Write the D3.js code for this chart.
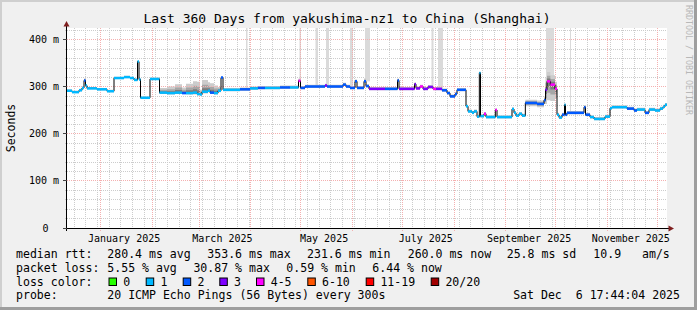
<!DOCTYPE html>
<html><head><meta charset="utf-8">
<script src="https://cdn.jsdelivr.net/npm/d3@7"></script>
<style>
html,body{margin:0;padding:0;background:#f0f0f0;}
svg{display:block;}
text{font-family:"DejaVu Sans Mono",monospace;fill:#000;white-space:pre;}
</style></head><body>
<svg id="c" width="697" height="310"></svg>
<script>
// ---------------- data ----------------
const title = "Last 360 Days from yakushima-nz1 to China (Shanghai)";
const yLabel = "Seconds";
const credit = "RRDTOOL / TOBI OETIKER";
const endTime = Date.UTC(2025, 11, 6, 17, 44, 4);
const spanDays = 360;
const yTicks = [0, 100, 200, 300, 400];
const yTickLabels = ["0", "100 m", "200 m", "300 m", "400 m"];

// step series: day offset from the start of the window, median rtt (ms), loss class, smoke spread (ms)
const days = [0,3.0,7.2,9.0,10.2,11.1,12.0,18.0,24.0,28.2,
  34.2,37.8,40.2,42.3,43.2,44.1,49.8,55.5,60.0,64.8,
  69.0,71.4,75.6,78.0,79.8,81.0,84.6,85.8,88.2,90.6,
  92.4,93.6,103.8,109.8,114.6,118.8,127.8,133.8,138.9,140.1,
  142.8,154.8,156.0,165.6,167.4,169.8,172.8,174.0,178.2,179.4,
  181.2,190.8,198.3,199.2,208.5,209.4,211.8,213.6,216.6,219.6,
  221.4,225.0,228.0,229.8,232.8,234.0,239.4,240.6,243.0,244.2,
  246.0,247.4,248.1,250.2,251.4,257.0,258.0,267.0,268.2,269.4,
  271.2,273.0,275.0,282.0,286.2,287.1,288.0,290.0,292.8,294.0,
  295.2,297.0,298.5,299.1,300.0,310.2,311.1,313.8,316.2,322.8,
  325.8,327.0,336.0,340.2,342.0,346.8,349.2,352.8,355.8,357.6,
  358.8];
const median = [292,289,293,298,314,303,297,295,291,319,
  321,319,315,354,316,277,317,288,287,288,
  287,287,288,285,284,290,292,288,287,292,
  320,294,295,297,298,298,299,299,313,298,
  301,303,301,305,301,298,312,298,312,302,
  296,296,314,296,306,297,301,296,300,296,
  296,293,287,280,285,294,259,248,245,248,
  237,330,238,243,236,251,236,253,245,239,
  243,239,266,264,272,294,312,305,296,241,
  235,241,262,241,245,257,241,236,232,237,
  255,257,254,250,252,245,252,250,254,258,
  262];
const loss = [1,1,1,1,2,1,1,1,1,1,
  1,1,1,1,1,1,1,1,1,1,
  2,1,1,1,1,1,1,2,1,1,
  2,1,2,1,2,1,2,1,4,2,
  2,3,2,2,2,2,2,2,2,2,
  3,2,2,3,3,3,4,3,3,4,
  3,2,2,2,2,2,1,1,1,1,
  1,1,1,4,1,4,1,1,1,1,
  1,1,2,2,2,3,4,4,4,1,
  1,2,1,2,2,2,2,1,1,1,
  1,1,2,2,1,2,1,1,1,1,
  1];
const smokeUp = [3,3,3,3,4,3,3,3,3,3,
  3,3,3,2,3,3,3,10,14,18,
  12,20,24,26,10,25,18,20,16,8,
  2,4,4,4,4,4,4,4,5,4,
  4,4,4,4,4,4,4,4,6,4,
  4,4,4,4,4,4,4,4,4,4,
  4,4,4,4,4,4,4,4,4,4,
  4,2,4,4,4,4,4,4,4,4,
  4,4,7,7,8,25,20,20,15,4,
  4,4,3,4,4,4,4,4,4,4,
  4,4,4,4,4,4,4,4,4,4,
  4];
const smokeDn = [2,2,2,2,2,2,2,2,2,2,
  2,2,2,2,2,2,2,3,3,3,
  2,3,4,3,2,4,3,3,3,3,
  1,3,3,3,3,3,3,3,2,3,
  3,3,3,3,3,3,3,3,3,3,
  3,3,3,3,3,3,3,3,3,3,
  3,3,3,3,3,3,3,3,3,3,
  3,1,3,3,3,3,3,3,3,3,
  3,3,7,7,8,30,40,35,20,3,
  3,3,2,3,3,3,3,3,3,3,
  3,3,3,3,3,3,3,3,3,3,
  3];
// periods (day ranges) where the smoke goes beyond the top of the graph
const offChart = [[107.4,108.3],[139.5,140.4],[149.1,150.6],[155.4,157.2],[169.8,171.6],
  [178.8,181.8],[218.7,219.9],[222.6,225.6],[287.4,292.2],[301.8,302.4]];

const lossLabels = ["0","1","2","3","4-5","6-10","11-19","20/20"];
const lossColors = ["#26ff00","#00b8ff","#0059ff","#7e00ff","#ff00ff","#ff5500","#ff0000","#a10000"];
const rttStats = ["280.4 ms avg","353.6 ms max","231.6 ms min","260.0 ms now","25.8 ms sd","10.9","am/s"];
const lossStats = ["5.55 % avg","30.87 % max","0.59 % min","6.44 % now"];
const probeText = "20 ICMP Echo Pings (56 Bytes) every 300s";
const stampText = "Sat Dec  6 17:44:04 2025";

// ---------------- drawing ----------------
const W = 697, H = 310;
const X0 = 67, X1 = 667, YB = 228, YT = 28;
const svg = d3.select("#c");
const start = endTime - spanDays * 864e5;
const toDate = d => new Date(start + d * 864e5);
const x = d3.scaleUtc().domain([new Date(start), new Date(endTime)]).range([X0, X1]);
const y = d3.scaleLinear().domain([0, 425.5]).range([YB, YT]);
const px = v => Math.floor(v) + 0.5;

// frame
svg.append("rect").attr("width", W).attr("height", H).attr("fill", "#f0f0f0");
svg.append("rect").attr("x", 0).attr("y", 0).attr("width", W).attr("height", 2).attr("fill", "#cfcfcf");
svg.append("rect").attr("x", 0).attr("y", 0).attr("width", 2).attr("height", H).attr("fill", "#cfcfcf");
svg.append("rect").attr("x", 0).attr("y", H - 3).attr("width", W).attr("height", 3).attr("fill", "#9e9e9e");
svg.append("rect").attr("x", W - 3).attr("y", 0).attr("width", 3).attr("height", H).attr("fill", "#9e9e9e");

// canvas
svg.append("rect").attr("x", X0).attr("y", YT).attr("width", X1 - X0).attr("height", YB - YT).attr("fill", "#ffffff");

const g = svg.append("g");
// minor grid
const minorY = d3.range(0, 425, 20).filter(v => v % 100 !== 0);
g.selectAll(".my").data(minorY).join("line")
  .attr("x1", X0 - 2).attr("x2", X1).attr("y1", d => px(y(d))).attr("y2", d => px(y(d)))
  .attr("stroke", "#cccccc").attr("stroke-dasharray", "1,1");
const weeks = d3.utcMonday.range(new Date(start), new Date(endTime));
g.selectAll(".mx").data(weeks).join("line")
  .attr("x1", d => px(x(d))).attr("x2", d => px(x(d))).attr("y1", YT).attr("y2", YB + 2)
  .attr("stroke", "#cccccc").attr("stroke-dasharray", "1,1");

// off-chart smoke bars
function stepIndex(d) { return Math.max(0, d3.bisectRight(days, d) - 1); }
g.selectAll(".oc").data(offChart).join("rect")
  .attr("x", d => x(toDate(d[0]))).attr("width", d => Math.max(1, x(toDate(d[1])) - x(toDate(d[0]))))
  .attr("y", YT)
  .attr("height", d => { const i = stepIndex(d[0]); return y(median[i]) - YT; })
  .attr("fill", "#dadada");

// smoke bands
const pts = days.map((d, i) => ({d, m: median[i], up: smokeUp[i], dn: smokeDn[i], l: loss[i]}));
const ptsExt = pts.concat([{...pts[pts.length - 1], d: spanDays}]);
const layers = [[1.0, "#cccccc"], [0.6, "#a6a6a6"], [0.3, "#7c7c7c"]];
layers.forEach(([f, col]) => {
  const area = d3.area().curve(d3.curveStepAfter)
    .x(p => x(toDate(p.d)))
    .y0(p => y(p.m - p.dn * f))
    .y1(p => y(p.m + p.up * f));
  g.append("path").datum(ptsExt).attr("d", area).attr("fill", col);
});

// major grid (dotted)
const months = d3.utcMonth.range(new Date(start), new Date(endTime));
g.selectAll(".Mx").data(months).join("line")
  .attr("x1", d => px(x(d))).attr("x2", d => px(x(d))).attr("y1", YT).attr("y2", YB + 3)
  .attr("stroke", "#f4b0b0").attr("stroke-dasharray", "1,1");
g.selectAll(".My").data(yTicks.filter(v => v > 0)).join("line")
  .attr("x1", X0).attr("x2", X1).attr("y1", d => px(y(d))).attr("y2", d => px(y(d)))
  .attr("stroke", "#f4b0b0").attr("stroke-dasharray", "1,1");

// median: black step line + coloured segments
const stepLine = d3.line().curve(d3.curveStepAfter).x(p => x(toDate(p.d))).y(p => y(p.m));
g.append("path").datum(ptsExt).attr("d", stepLine).attr("fill", "none").attr("stroke", "#000").attr("stroke-width", 1);
const segLine = d3.line().x(s => x(toDate(s[0]))).y(s => y(s[1]));
g.selectAll(".seg").data(pts).join("path")
  .attr("d", (p, i) => segLine([[p.d, p.m], [ptsExt[i + 1].d, p.m]]))
  .attr("stroke", p => lossColors[p.l]).attr("stroke-width", 2.5).attr("fill", "none");

// axes
svg.append("line").attr("x1", X0 - 3).attr("x2", X1 + 2).attr("y1", YB + 0.5).attr("y2", YB + 0.5).attr("stroke", "#000");
svg.append("line").attr("x1", X0 - 0.5).attr("x2", X0 - 0.5).attr("y1", YB + 3).attr("y2", YT - 2).attr("stroke", "#000");
svg.append("path").attr("d", `M${X0 - 0.5},${YT - 7} L${X0 - 3.5},${YT - 1.5} L${X0 + 2.5},${YT - 1.5} Z`).attr("fill", "#7f1f1f");
svg.append("path").attr("d", `M${X1 + 7},${YB + 0.5} L${X1 + 1.5},${YB - 2.5} L${X1 + 1.5},${YB + 3.5} Z`).attr("fill", "#7f1f1f");
svg.selectAll(".yt").data(yTicks).join("line")
  .attr("x1", X0 - 4).attr("x2", X0).attr("y1", d => px(y(d))).attr("y2", d => px(y(d)))
  .attr("stroke", "#444");

// y labels
svg.selectAll(".yl").data(yTicks).join("text")
  .attr("x", (d, i) => yTickLabels[i].indexOf("m") >= 0 ? 59 : 48.5)
  .attr("y", d => y(d) + 3.5)
  .attr("text-anchor", "end").attr("font-size", "10px")
  .text((d, i) => yTickLabels[i]);

// x labels
const labelMonths = d3.utcMonth.every(2).range(new Date(start), new Date(endTime));
const fmt = d3.utcFormat("%B %Y");
svg.selectAll(".xl").data(labelMonths).join("text")
  .attr("x", d => x(d3.utcDay.offset(d, 14)))
  .attr("y", 241.5).attr("text-anchor", "middle").attr("font-size", "10px")
  .text(d => fmt(d));

// title
svg.append("text").attr("x", 347).attr("y", 22.5).attr("text-anchor", "middle").attr("font-size", "13px").text(title);
// y axis title
svg.append("text").attr("transform", "translate(14.5,128) rotate(-90)").attr("text-anchor", "middle")
  .attr("font-size", "11.5px").text(yLabel);
// credit
svg.append("text").attr("transform", "translate(685.5,5) rotate(90)").attr("text-anchor", "start")
  .attr("font-size", "8.3px").style("fill", "#b8b8b8").text(credit);

// legend
const FS = "11.55px";
const row = [258, 271.7, 285.5, 299];
const leg = svg.append("g").attr("font-size", FS);
leg.append("text").attr("x", 16).attr("y", row[0]).text("median rtt:");
const rttX = [107.3, 207.3, 307, 407.7, 506.7, 593.3, 642];
rttStats.forEach((s, i) => leg.append("text").attr("x", rttX[i]).attr("y", row[0]).text(s));
leg.append("text").attr("x", 16).attr("y", row[1]).text("packet loss:");
const lossX = [107.3, 193.4, 286.3, 372.3];
lossStats.forEach((s, i) => leg.append("text").attr("x", lossX[i]).attr("y", row[1]).text(s));
leg.append("text").attr("x", 16).attr("y", row[2]).text("loss color:");
const boxX = [108.5, 145.7, 182.7, 219.3, 256, 307.3, 365.7, 430.7];
lossLabels.forEach((s, i) => {
  leg.append("rect").attr("x", boxX[i] + 0.5).attr("y", row[2] - 7.5).attr("width", 7.5).attr("height", 7.5)
    .attr("fill", lossColors[i]).attr("stroke", "#000").attr("stroke-width", 1);
  leg.append("text").attr("x", boxX[i] + 14.7).attr("y", row[2]).text(s);
});
leg.append("text").attr("x", 16).attr("y", row[3]).text("probe:");
leg.append("text").attr("x", 107.3).attr("y", row[3]).text(probeText);
leg.append("text").attr("x", 680).attr("y", row[3]).attr("text-anchor", "end").attr("xml:space", "preserve").text(stampText);
</script>
</body></html>
